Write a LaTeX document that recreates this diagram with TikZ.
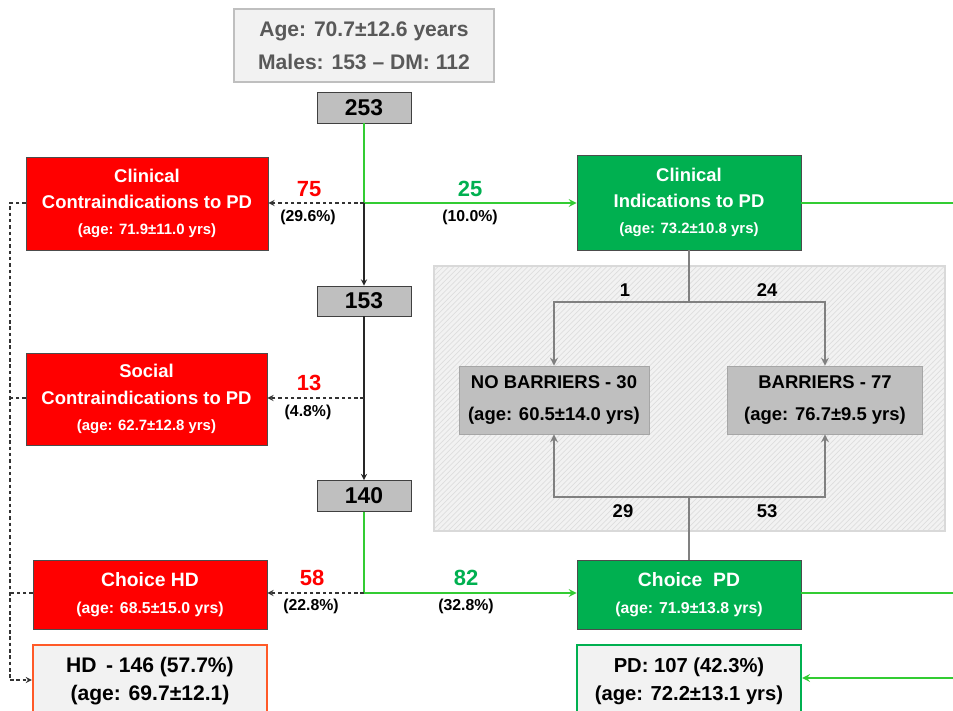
\documentclass[tikz,border=0pt]{standalone}
\usepackage{fontspec}
\setmainfont{Liberation Sans}
\usetikzlibrary{patterns}
\definecolor{boxred}{HTML}{FF0000}
\definecolor{boxgreen}{HTML}{00B050}
\definecolor{linegreen}{HTML}{33CC33}
\definecolor{boxgray}{HTML}{BFBFBF}
\definecolor{panelgray}{HTML}{F2F2F2}
\definecolor{headgray}{HTML}{595959}
\definecolor{hdorange}{HTML}{FF5A28}
\newcommand{\fsz}[2]{\fontsize{#1}{#2}\selectfont}

\begin{document}
\begin{tikzpicture}[x=0.02cm, y=-0.02cm, >=stealth,
  every node/.style={font=\bfseries, align=center, inner sep=0pt},
  countbox/.style={draw=black!75, fill=boxgray, minimum width=1.88cm,
    minimum height=0.62cm, font=\bfseries\fsz{13}{15}},
  redbox/.style={draw=black!70, fill=boxred, text=white, font=\bfseries\fsz{10.5}{15}},
  greenbox/.style={draw=black!70, fill=boxgreen, text=white, font=\bfseries\fsz{10.5}{15}},
  barbox/.style={draw=black!35, fill=boxgray, minimum height=1.36cm,
    font=\bfseries\fsz{10.5}{18.5}},
  outbox/.style={fill=panelgray, line width=1.2pt, minimum height=1.44cm,
    font=\bfseries\fsz{12}{16}},
  numred/.style={text=boxred, font=\bfseries\fsz{12.5}{14}},
  numgreen/.style={text=boxgreen, font=\bfseries\fsz{12.5}{14}},
  pct/.style={font=\bfseries\fsz{9}{11}},
  splitnum/.style={font=\bfseries\fsz{10.5}{12}},
  flow/.style={->, line width=0.6pt, black!85},
  skip/.style={line width=0.6pt, black!80, dash pattern=on 2pt off 1.6pt},
  pdflow/.style={line width=1pt, linegreen},
  split/.style={->, line width=1pt, black!50}]
  \clip (0,0) rectangle (953,710);

  % ============ BACKGROUND PANEL (barriers) ============
  \fill[panelgray] (434,266) rectangle (945,531);
  \fill[pattern=north east lines, pattern color=black!13] (434,266) rectangle (945,531);
  \draw[black!15, line width=0.8pt] (434,266) rectangle (945,531);

  % ============ MAIN COLUMN ============
  \node[draw=boxgray, fill=panelgray, line width=1.5pt, text=headgray,
    minimum width=5.2cm, minimum height=1.46cm, font=\bfseries\fsz{12}{19}]
    (cohort) at (364,45.5) {Age: 70.7±12.6 years\\Males: 153 -- DM: 112};
  \node[countbox] (n253) at (364,107.5) {253};
  \node[countbox, minimum height=0.6cm] (n153) at (364,301) {153};
  \node[countbox, minimum height=0.62cm] (n140) at (364,496) {140};

  % ============ LEFT: CONTRAINDICATIONS / HD ============
  \node[redbox, minimum width=4.84cm, minimum height=1.86cm] (clinC) at (147,203.5)
    {Clinical\\Contraindications to PD\\{\fsz{8.5}{10}(age: 71.9±11.0 yrs)}};
  \node[redbox, minimum width=4.82cm, minimum height=1.84cm] (socC) at (146.5,399)
    {Social\\Contraindications to PD\\{\fsz{8.5}{10}(age: 62.7±12.8 yrs)}};
  \node[redbox, minimum width=4.68cm, minimum height=1.38cm, font=\bfseries\fsz{11}{15.5}]
    (choiceHD) at (150,594.5) {Choice HD\\{\fsz{9}{10}(age: 68.5±15.0 yrs)}};
  \node[outbox, draw=hdorange, minimum width=4.68cm] (hd) at (150,681)
    {HD\, - 146 (57.7\%)\\(age: 69.7±12.1)};

  % ============ RIGHT: INDICATIONS / PD ============
  \node[greenbox, minimum width=4.48cm, minimum height=1.9cm] (clinI) at (689,202.5)
    {Clinical\\Indications to PD\\{\fsz{8.5}{10}(age: 73.2±10.8 yrs)}};
  \node[greenbox, minimum width=4.48cm, minimum height=1.38cm, font=\bfseries\fsz{11}{15.5}]
    (choicePD) at (689,594.5) {Choice\ \ PD\\{\fsz{9}{10}(age: 71.9±13.8 yrs)}};
  \node[outbox, draw=boxgreen, minimum width=4.48cm, font=\bfseries\fsz{11.5}{16}]
    (pd) at (689,681) {PD: 107 (42.3\%)\\(age: 72.2±13.1 yrs)};

  \node[barbox, minimum width=3.8cm] (noB) at (554,400)
    {NO BARRIERS - 30\\(age: 60.5±14.0 yrs)};
  \node[barbox, minimum width=3.9cm] (yesB) at (825,400)
    {BARRIERS - 77\\(age: 76.7±9.5 yrs)};

  % ============ JUNCTIONS ============
  \coordinate (jA) at (364,203);
  \coordinate (jB) at (364,398);
  \coordinate (jC) at (364,593);
  \coordinate (bus) at (10,680);
  \coordinate (sp1) at (689,302);
  \coordinate (sp2) at (689,497);
  \coordinate (rA) at (960,203);
  \coordinate (rB) at (960,593);
  \coordinate (rC) at (960,678);

  % ============ CONNECTORS ============
  \draw[pdflow] (n253.south) -- (jA);
  \draw[pdflow,->] (jA) -- (jA -| clinI.west);
  \draw[flow] (jA) -- (n153.north);
  \draw[skip,->] (jA) -- (jA -| clinC.east);
  \draw[flow] (n153.south) -- (n140.north);
  \draw[skip,->] (jB) -- (jB -| socC.east);
  \draw[pdflow] (n140.south) -- (jC);
  \draw[pdflow,->] (jC) -- (jC -| choicePD.west);
  \draw[skip,->] (jC) -- (jC -| choiceHD.east);
  % dashed bus into HD
  \draw[skip] (clinC.west |- jA) -| (bus);
  \draw[skip] (socC.west |- jB) -- (socC.west |- jB -| bus);
  \draw[skip] (choiceHD.west |- jC) -- (choiceHD.west |- jC -| bus);
  \draw[skip,->] (bus) -- (bus -| hd.west);
  % right-hand PD lines
  \draw[pdflow] (clinI.east |- jA) -- (rA);
  \draw[pdflow] (choicePD.east |- jC) -- (rB);
  \draw[pdflow,->] (rC) -- (rC -| pd.east);
  % barriers split
  \draw[line width=1pt, black!50] (clinI.south) -- (sp1);
  \draw[split] (sp1) -| (noB.north);
  \draw[split] (sp1) -| (yesB.north);
  \draw[line width=1pt, black!50] (choicePD.north) -- (sp2);
  \draw[split] (sp2) -| (noB.south);
  \draw[split] (sp2) -| (yesB.south);

  % ============ COUNTS ============
  \node[numred] (l75) at (309,189) {75};
  \node[pct] (p75) at (308,217) {(29.6\%)};
  \node[numgreen] (l25) at (470,189) {25};
  \node[pct] (p25) at (470,217) {(10.0\%)};
  \node[numred] (l13) at (309,383) {13};
  \node[pct] (p13) at (308,412) {(4.8\%)};
  \node[numred] (l58) at (312,578) {58};
  \node[pct] (p58) at (311,606) {(22.8\%)};
  \node[numgreen] (l82) at (466,578) {82};
  \node[pct] (p82) at (466,606) {(32.8\%)};
  \node[splitnum] (s1) at (625,290) {1};
  \node[splitnum] (s24) at (767,290) {24};
  \node[splitnum] (s29) at (623,511) {29};
  \node[splitnum] (s53) at (767,511) {53};
\end{tikzpicture}
\end{document}
